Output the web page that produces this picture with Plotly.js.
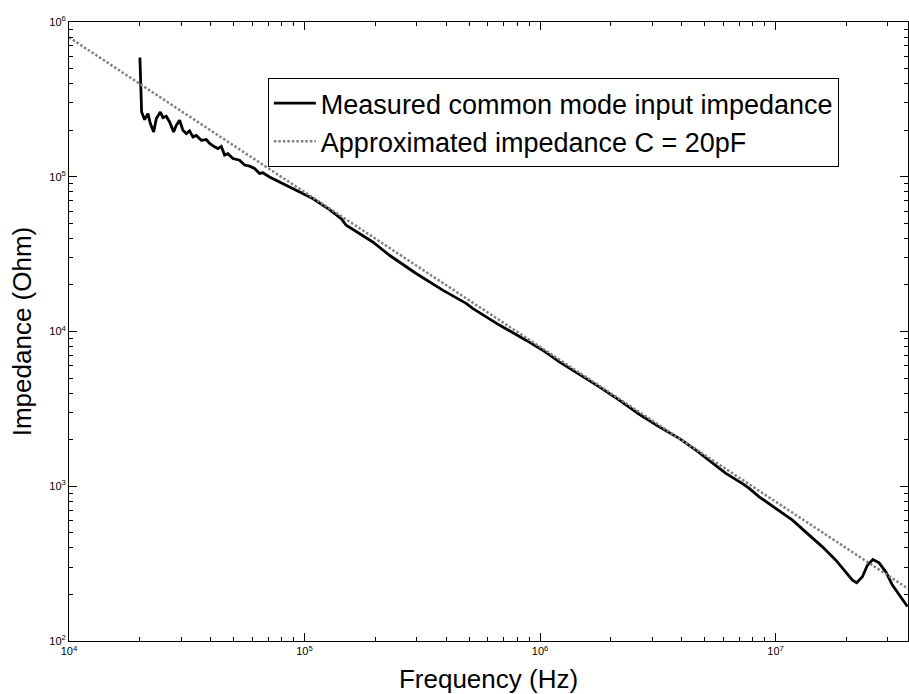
<!DOCTYPE html>
<html>
<head>
<meta charset="utf-8">
<script src="https://cdn.plot.ly/plotly-3.0.1.min.js"></script>
<style>
  html, body { margin: 0; padding: 0; background: #fff; }
  #chart { width: 909px; height: 694px; }
</style>
</head>
<body>
<div id="chart"></div>
<script>
// Measured common mode input impedance
const measuredFreq = [
  2.0e4, 2.034e4, 2.095e4, 2.164e4, 2.215e4, 2.288e4, 2.349e4, 2.443e4, 2.505e4, 2.589e4,
  2.674e4, 2.781e4, 2.855e4, 2.949e4, 3.045e4, 3.148e4, 3.251e4, 3.358e4, 3.471e4, 3.645e4,
  3.828e4, 3.954e4, 4.152e4, 4.288e4, 4.433e4, 4.578e4, 4.728e4, 4.965e4, 5.30e4, 5.566e4,
  5.845e4, 6.137e4, 6.444e4, 6.655e4, 7.10e4, 7.58e4, 8.09e4, 8.64e4, 9.22e4, 9.83e4,
  1.084e5, 1.277e5, 1.431e5, 1.503e5, 1.711e5, 1.949e5, 2.294e5, 2.978e5, 3.862e5, 4.853e5,
  5.176e5, 6.72e5, 8.72e5, 1.026e6, 1.208e6, 1.468e6, 1.785e6, 2.170e6, 2.638e6, 3.208e6,
  3.90e6, 4.59e6, 5.40e6, 6.15e6, 7.24e6, 7.73e6, 8.52e6, 1.003e7, 1.18e7, 1.389e7,
  1.581e7, 1.803e7, 1.988e7, 2.120e7, 2.21e7, 2.337e7, 2.454e7, 2.59e7, 2.751e7, 2.938e7,
  3.133e7, 3.345e7, 3.63e7
];
const measuredZ = [
  5.89e5, 2.62e5, 2.34e5, 2.56e5, 2.21e5, 1.95e5, 2.38e5, 2.62e5, 2.41e5, 2.46e5,
  2.26e5, 1.95e5, 2.15e5, 2.32e5, 2.00e5, 1.90e5, 1.98e5, 1.81e5, 1.85e5, 1.72e5,
  1.74e5, 1.64e5, 1.56e5, 1.52e5, 1.57e5, 1.38e5, 1.41e5, 1.31e5, 1.28e5, 1.19e5,
  1.17e5, 1.13e5, 1.05e5, 1.06e5, 9.97e4, 9.49e4, 9.04e4, 8.59e4, 8.18e4, 7.79e4,
  7.23e4, 6.14e4, 5.37e4, 4.86e4, 4.30e4, 3.79e4, 3.11e4, 2.37e4, 1.85e4, 1.52e4,
  1.41e4, 1.10e4, 8.79e3, 7.57e3, 6.36e3, 5.30e3, 4.39e3, 3.60e3, 2.92e3, 2.42e3,
  2.04e3, 1.71e3, 1.40e3, 1.21e3, 1.04e3, 968, 854, 719, 604, 483,
  406, 333, 280, 247, 238, 260, 309, 336, 320, 280,
  230, 198, 167
];

// Approximated impedance, C = 20 pF (straight line on log-log; end points)
const approxFreq = [1e4, 3.65e7];
const approxZ = [7.96e5, 218];

// Axis tick labels
const xTickVals = [1e4, 1e5, 1e6, 1e7];
const xTickText = ['10<sup>4</sup>', '10<sup>5</sup>', '10<sup>6</sup>', '10<sup>7</sup>'];
const yTickVals = [1e2, 1e3, 1e4, 1e5, 1e6];
const yTickText = ['10<sup>2</sup>', '10<sup>3</sup>', '10<sup>4</sup>', '10<sup>5</sup>', '10<sup>6</sup>'];

const seriesNames = ['Measured common mode input impedance', 'Approximated impedance C = 20pF'];

function minorTicks(lo, hi) {
  const out = [];
  for (let d = lo; d < hi; d++) {
    for (let m = 2; m <= 9; m++) out.push(m * Math.pow(10, d));
  }
  return out;
}

const FONT = 'Liberation Sans, Arial, sans-serif';

const traces = [
  {
    x: measuredFreq, y: measuredZ, type: 'scatter', mode: 'lines',
    name: seriesNames[0],
    line: { color: '#000000', width: 2.8 }
  },
  {
    x: approxFreq, y: approxZ, type: 'scatter', mode: 'lines',
    name: seriesNames[1],
    line: { color: '#808080', width: 2.5, dash: '2.5px,2px' }
  }
];

const axisCommon = {
  type: 'log',
  showline: true, linecolor: '#000', linewidth: 1,
  mirror: 'allticks',
  ticks: 'inside', ticklen: 8, tickwidth: 1, tickcolor: '#000',
  showgrid: false, zeroline: false,
  tickmode: 'array',
  tickfont: { family: FONT, size: 11, color: '#000' }
};

const layout = {
  width: 909, height: 694,
  margin: { l: 69, r: 1, t: 22, b: 53 },
  paper_bgcolor: '#fff', plot_bgcolor: '#fff',
  font: { family: FONT, color: '#000' },
  showlegend: true,
  legend: {
    x: 0.237, y: 0.9095, xanchor: 'left', yanchor: 'top',
    bgcolor: '#fff', bordercolor: '#000', borderwidth: 1,
    font: { family: FONT, size: 27, color: '#000' },
    itemwidth: 42,
    tracegroupgap: 0
  },
  xaxis: Object.assign({}, axisCommon, {
    range: [4, Math.log10(3.65e7)],
    tickvals: xTickVals, ticktext: xTickText,
    minor: { tickmode: 'array', tickvals: minorTicks(4, 8), ticks: 'inside', ticklen: 4, tickcolor: '#000', showgrid: false },
    title: { text: 'Frequency (Hz)', font: { family: FONT, size: 26, color: '#000' }, standoff: 14 }
  }),
  yaxis: Object.assign({}, axisCommon, {
    range: [2, 6],
    tickvals: yTickVals, ticktext: yTickText,
    minor: { tickmode: 'array', tickvals: minorTicks(2, 6), ticks: 'inside', ticklen: 4, tickcolor: '#000', showgrid: false },
    title: { text: 'Impedance (Ohm)', font: { family: FONT, size: 26, color: '#000' }, standoff: 10 }
  })
};

Plotly.newPlot('chart', traces, layout, { displayModeBar: false, staticPlot: true });
</script>
</body>
</html>
